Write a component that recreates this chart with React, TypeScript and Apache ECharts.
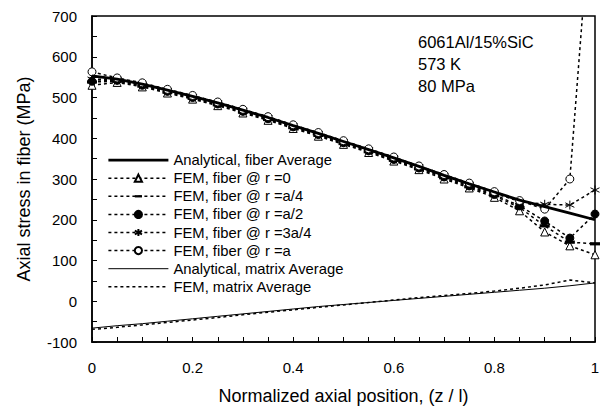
import React, { useEffect, useRef } from "react";
import * as echarts from "echarts";

const zs = [0, 0.05, 0.1, 0.15, 0.2, 0.25, 0.3, 0.35, 0.4, 0.45, 0.5, 0.55, 0.6, 0.65, 0.7, 0.75, 0.8, 0.85, 0.9, 0.95, 1];
const analyticalFiber = [553, 545, 533, 518, 503, 487, 469, 451, 431, 412, 392, 372, 352, 331, 309, 288, 268, 248, 232, 216, 200];
const femR0 = [530, 537, 526, 511, 496, 480, 462, 444, 424, 405, 385, 365, 344, 323, 300, 278, 255, 222, 170, 136, 114];
const femRa4 = [538, 540, 528, 513, 498, 482, 464, 446, 426, 407, 387, 367, 346, 325, 303, 281, 259, 230, 185, 145, 141];
const femRa2 = [540, 542, 530, 515, 500, 484, 466, 448, 428, 409, 389, 369, 348, 327, 305, 283, 262, 234, 197, 155, 214];
const femR3a4 = [545, 544, 532, 517, 502, 486, 468, 450, 430, 411, 391, 371, 350, 329, 307, 286, 265, 245, 238, 236, 273];
const femRa = [563, 548, 536, 520, 505, 489, 471, 453, 433, 414, 394, 374, 354, 332, 311, 290, 269, 247, 226, 300, 1100];
const analyticalMatrix = [-66, -60, -55, -49, -43, -37, -31, -25, -19, -13, -8, -3, 2, 7, 12, 17, 22, 27, 32, 38, 45];
const femMatrix = [-69, -64, -58, -52, -46, -40, -33, -27, -21, -15, -9, -3, 3, 9, 14, 19, 25, 32, 40, 52, 45];

const names = [
  "Analytical, fiber Average",
  "FEM, fiber @ r =0",
  "FEM, fiber @ r =a/4",
  "FEM, fiber @ r =a/2",
  "FEM, fiber @ r =3a/4",
  "FEM, fiber @ r =a",
  "Analytical, matrix Average",
  "FEM, matrix Average",
];

const annotation = ["6061Al/15%SiC", "573 K", "80 MPa"];

const FONT = "Liberation Sans, Arial, sans-serif";
const pair = (vals: number[]) => zs.map((z, i) => [z, vals[i]]);

export default function App() {
  const ref = useRef<HTMLDivElement>(null);
  useEffect(() => {
    if (!ref.current) return;
    const chart = echarts.init(ref.current, null, { renderer: "svg" });
    const dotted = { color: "#000", width: 1.5, type: [3, 3] as number[] };
    const femSeries = (name: string, vals: number[], symbol: string, size: any, filled: boolean, bw = 1) => ({
      name,
      type: "line",
      data: pair(vals),
      symbol,
      symbolSize: size,
      showSymbol: true,
      lineStyle: dotted,
      itemStyle: { color: filled ? "#000" : "#fff", borderColor: "#000", borderWidth: bw },
      z: 3,
    });
    const star = "path://M5,0L5,10M0.67,2.5L9.33,7.5M0.67,7.5L9.33,2.5";
    const dash = "path://M0,0L0,0M0,3.4L10,3.4L10,6.6L0,6.6ZM10,10L10,10";
    const invisible = "path://M0,0L1,1";
    const plainLine = (name: string, vals: number[], width: number, type: any, z: number) => ({
      name,
      type: "line",
      data: pair(vals),
      symbol: invisible,
      showSymbol: false,
      lineStyle: { color: "#000", width, type },
      itemStyle: { color: "transparent", borderColor: "transparent", borderWidth: 0 },
      z,
    });
    const legendWidths = [2.8, 1.5, 1.5, 1.5, 1.5, 1.5, 1, 1.5];
    chart.setOption({
      animation: false,
      backgroundColor: "#fff",
      textStyle: { fontFamily: FONT, color: "#000" },
      grid: {
        left: 92,
        top: 16,
        width: 503,
        height: 326,
        show: true,
        borderColor: "#000",
        borderWidth: 1.5,
        backgroundColor: "transparent",
      },
      xAxis: {
        type: "value",
        min: 0,
        max: 1,
        interval: 0.2,
        name: "Normalized axial position, (z / l)",
        nameLocation: "middle",
        nameGap: 45,
        nameTextStyle: { fontSize: 18, color: "#000", fontFamily: FONT },
        axisLine: { show: true, onZero: false, lineStyle: { color: "#000", width: 1.5 } },
        axisTick: { show: true, inside: true, length: 5, lineStyle: { color: "#000" } },
        minorTick: { show: true, splitNumber: 4, length: 5, lineStyle: { color: "#000" } },
        axisLabel: { fontSize: 15, color: "#000", margin: 18, fontFamily: FONT },
        splitLine: { show: false },
      },
      yAxis: {
        type: "value",
        min: -100,
        max: 700,
        interval: 100,
        name: "Axial stress in fiber (MPa)",
        nameLocation: "middle",
        nameGap: 59,
        nameTextStyle: { fontSize: 18, color: "#000", fontFamily: FONT },
        axisLine: { show: true, onZero: false, lineStyle: { color: "#000", width: 1.5 } },
        axisTick: { show: true, inside: true, length: 5, lineStyle: { color: "#000" } },
        minorTick: { show: true, splitNumber: 2, length: 5, lineStyle: { color: "#000" } },
        axisLabel: { fontSize: 15, color: "#000", margin: 15, fontFamily: FONT },
        splitLine: { show: false },
      },
      legend: {
        orient: "vertical",
        left: 102,
        top: 147.6,
        itemWidth: 60,
        itemHeight: 9,
        itemGap: 3.1,
        data: names.map((n, i) => ({ name: n, lineStyle: { width: legendWidths[i] } })),
        textStyle: { fontSize: 14.8, color: "#000", fontFamily: FONT },
      },
      graphic: [
        {
          type: "text",
          left: 418,
          top: 31,
          style: {
            text: annotation.join("\n"),
            font: `16.5px ${FONT}`,
            fill: "#000",
            lineHeight: 22,
          },
        },
      ],
      series: [
        plainLine(names[0], analyticalFiber, 2.8, "solid", 4),
        femSeries(names[1], femR0, "triangle", 8, false),
        femSeries(names[2], femRa4, dash, 10, true, 0),
        femSeries(names[3], femRa2, "circle", 8, true),
        femSeries(names[4], femR3a4, star, 9, false),
        femSeries(names[5], femRa, "circle", 8, false),
        plainLine(names[6], analyticalMatrix, 1, "solid", 2),
        plainLine(names[7], femMatrix, 1.5, [3, 3], 2),
      ],
    });
    return () => chart.dispose();
  }, []);
  return (
    <div
      ref={ref}
      style={{ position: "fixed", left: 0, top: 0, width: 607, height: 415, background: "#fff" }}
    />
  );
}
